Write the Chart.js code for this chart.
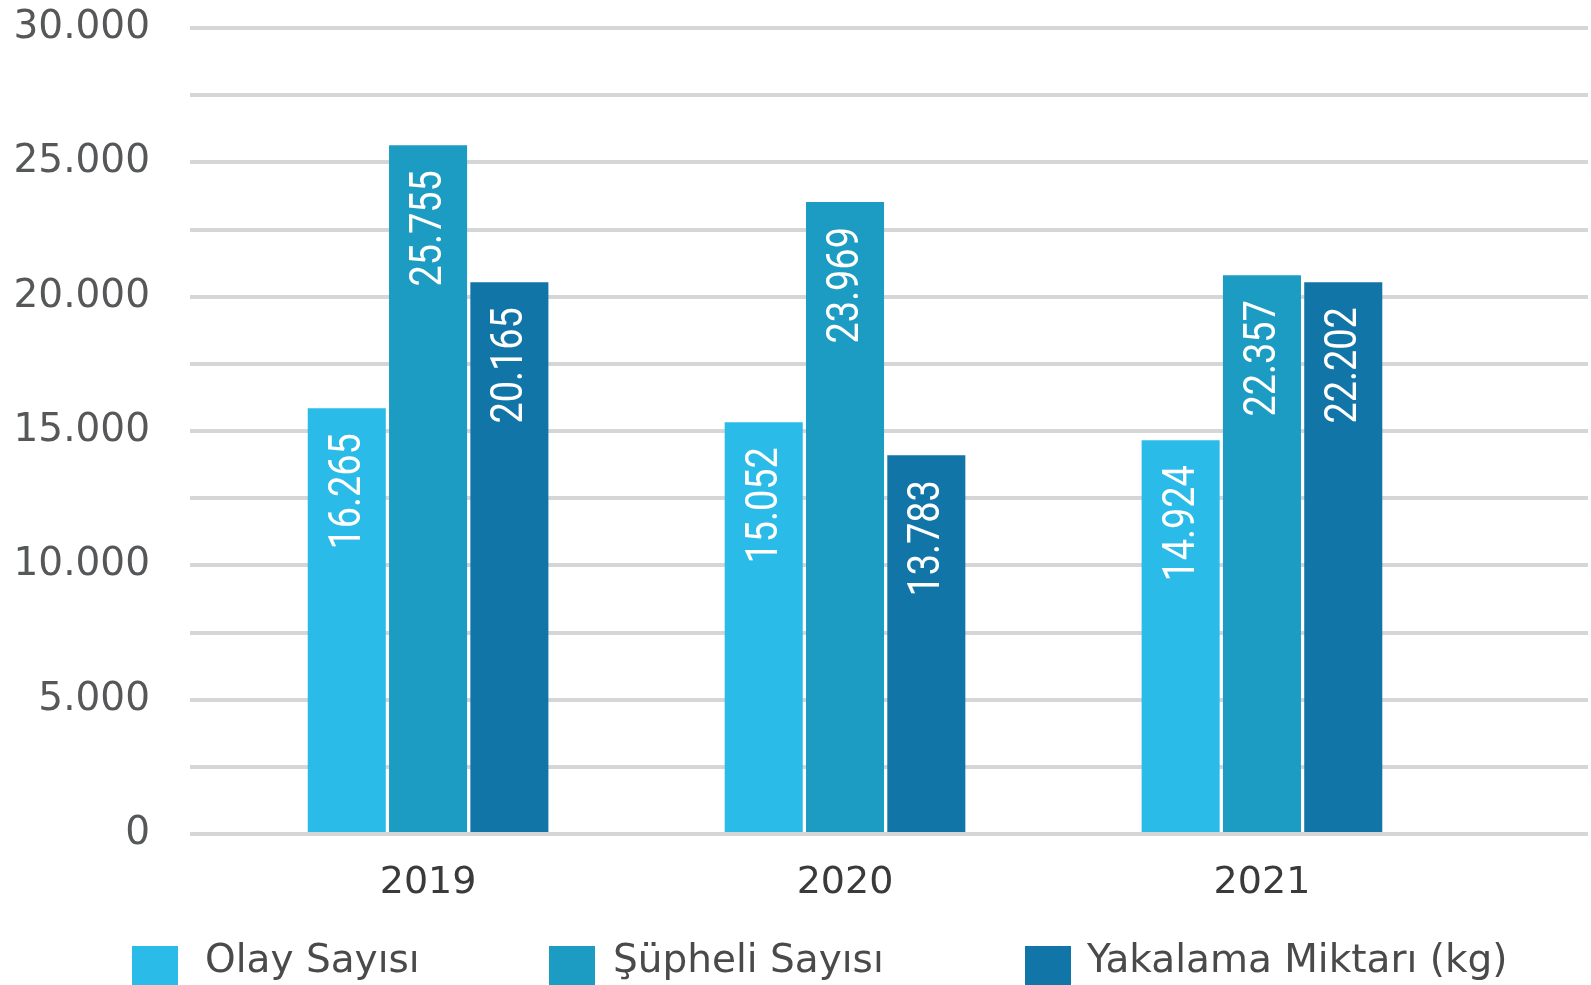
<!DOCTYPE html>
<html>
<head>
<meta charset="utf-8">
<script src="https://cdn.jsdelivr.net/npm/chart.js@4"></script>
<style>
  html, body { margin: 0; padding: 0; background: #fff; overflow: hidden; }
  #wrap { position: relative; width: 1591px; height: 985px; }
  #chart { position: absolute; left: 0; top: 0; }
  .legend-item { position: absolute; top: 939px; display: flex; align-items: flex-start; font-family: "DejaVu Sans", sans-serif; font-size: 39px; line-height: 39px; color: #4a4a4a; white-space: nowrap; }
  .legend-box { width: 46px; height: 46px; margin-top: 7px; }
</style>
</head>
<body>
<div id="wrap">
  <canvas id="chart" width="1591" height="985"></canvas>
  <div id="legend"></div>
</div>
<script>
const years = ["2019", "2020", "2021"];
const seriesNames = ["Olay Sayısı", "Şüpheli Sayısı", "Yakalama Miktarı (kg)"];
const seriesColors = ["#2bbbe9", "#1c9bc3", "#1275a7"];

// values printed on the bars
const olayLabel = [16265, 15052, 14924];
const supheliLabel = [25755, 23969, 22357];
const yakalamaLabel = [20165, 13783, 22202];

// bar heights as drawn against the axis
const olayHeight = [15850, 15330, 14660];
const supheliHeight = [25640, 23520, 20800];
const yakalamaHeight = [20540, 14100, 20540];

const yTicks = [0, 5000, 10000, 15000, 20000, 25000, 30000];

function fmt(n) {
  return String(n).replace(/\B(?=(\d{3})+(?!\d))/g, ".");
}

const heights = [olayHeight, supheliHeight, yakalamaHeight];
const printed = [olayLabel, supheliLabel, yakalamaLabel];

const barLabels = {
  id: "barLabels",
  afterDatasetsDraw(chart) {
    const ctx = chart.ctx;
    ctx.save();
    ctx.fillStyle = "#ffffff";
    ctx.font = "44px Roboto";
    ctx.textAlign = "right";
    ctx.textBaseline = "middle";
    chart.data.datasets.forEach((ds, di) => {
      chart.getDatasetMeta(di).data.forEach((bar, i) => {
        ctx.save();
        ctx.translate(bar.x + 2, bar.y + 25);
        ctx.rotate(-Math.PI / 2);
        ctx.scale(0.86, 1);
        ctx.fillText(fmt(printed[di][i]), 0, 0);
        ctx.restore();
      });
    });
    ctx.restore();
  }
};

const ctx = document.getElementById("chart").getContext("2d");
new Chart(ctx, {
  type: "bar",
  data: {
    datasets: seriesNames.map((name, di) => ({
      label: name,
      data: heights[di].map((v, i) => ({ x: i, y: v })),
      backgroundColor: seriesColors[di],
      borderWidth: 0,
      categoryPercentage: 0.585,
      barPercentage: 0.96
    }))
  },
  options: {
    responsive: false,
    animation: false,
    events: [],
    layout: { padding: { top: 28, right: 3, left: 0, bottom: 0 } },
    plugins: {
      legend: { display: false },
      tooltip: { enabled: false }
    },
    scales: {
      x: {
        type: "linear",
        offset: false,
        min: -0.571,
        max: 2.782,
        grid: { display: false, drawTicks: false },
        border: { display: false },
        ticks: {
          stepSize: 1,
          includeBounds: false,
          padding: 26,
          color: "#3a3a3a",
          font: { family: "DejaVu Sans", size: 38 },
          callback: (v) => (Number.isInteger(v) && years[v] !== undefined ? years[v] : "")
        },
        afterFit: (scale) => { scale.height = 151; }
      },
      y: {
        min: 0,
        max: 30000,
        grid: { color: "#d5d7d7", lineWidth: 4, drawTicks: true, tickLength: 40, tickColor: "rgba(0,0,0,0)" },
        border: { display: false },
        ticks: {
          stepSize: 2500,
          padding: 0,
          color: "#555759",
          font: { family: "DejaVu Sans", size: 39 },
          callback: (v) => (yTicks.includes(v) ? fmt(v) : "")
        },
        afterFit: (scale) => { scale.width = 190; }
      }
    }
  },
  plugins: [barLabels]
});

const legendLefts = [132, 549, 1025];
const legendGaps = [27, 18, 16];
document.getElementById("legend").innerHTML = seriesNames
  .map((name, i) => `<div class="legend-item" style="left:${legendLefts[i]}px;"><div class="legend-box" style="background:${seriesColors[i]};margin-right:${legendGaps[i]}px;"></div><span>${name}</span></div>`)
  .join("");
</script>
</body>
</html>
